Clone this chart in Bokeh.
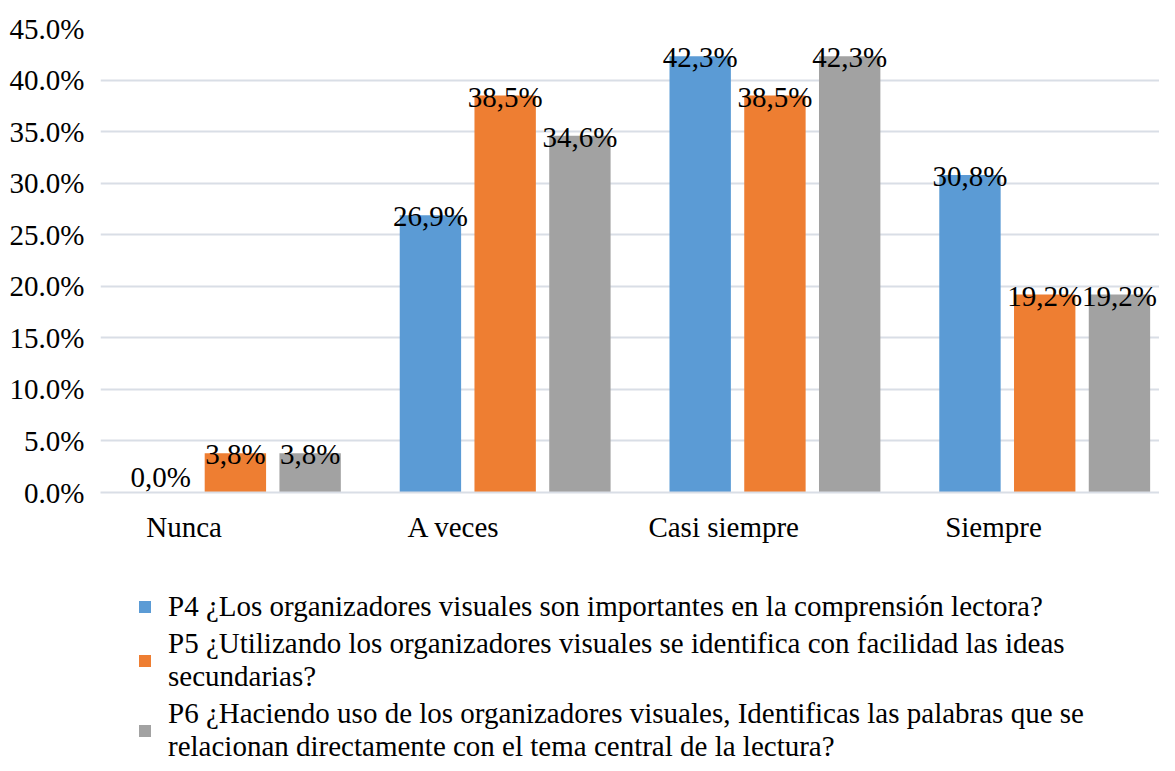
from bokeh.plotting import figure
from bokeh.layouts import column
from bokeh.models import (Range1d, FixedTicker, PrintfTickFormatter, CustomJSTickFormatter,
                          Legend, LegendItem, ColumnDataSource)
from bokeh.core.properties import value
from bokeh.embed import file_html
from bokeh.resources import INLINE

categories = ["Nunca", "A veces", "Casi siempre", "Siempre"]
p4 = [0.0, 26.9, 42.3, 30.8]
p5 = [3.8, 38.5, 38.5, 19.2]
p6 = [3.8, 34.6, 42.3, 19.2]
series_names = [
    "P4 ¿Los organizadores visuales son importantes en la comprensión lectora?",
    "P5 ¿Utilizando los organizadores visuales se identifica con facilidad las ideas\nsecundarias?",
    "P6 ¿Haciendo uso de los organizadores visuales, Identificas las palabras que se\nrelacionan directamente con el tema central de la lectura?",
]
y_ticks = [0, 5, 10, 15, 20, 25, 30, 35, 40, 45]

colors = ["#5B9BD5", "#EE7E32", "#A2A2A2"]
FONT = "Liberation Serif"
FS = "29px"

W = 1159
H1, H2 = 549, 214
left, top = 100, 28
frame_w = W - left
s = 0.99
group_px = 272.5 * s
x_end = frame_w / group_px

p = figure(width=W, height=H1, output_backend="svg", toolbar_location=None,
           x_range=Range1d(0, x_end), y_range=Range1d(0, 45),
           min_border_left=left, min_border_top=top, min_border_right=0,
           min_border_bottom=H1 - 492)
p.outline_line_color = None
p.background_fill_color = "white"
p.border_fill_color = "white"

# legend figure below the chart
p2 = figure(width=W, height=H2, output_backend="svg", toolbar_location=None,
            x_range=Range1d(-10, -9), y_range=Range1d(-10, -9),
            x_axis_location=None, y_axis_location=None,
            min_border_left=0, min_border_top=0, min_border_right=0, min_border_bottom=0)
p2.outline_line_color = None
p2.grid.grid_line_color = None
p2.background_fill_color = "white"
p2.border_fill_color = "white"

bar_w = 62 * s / group_px
offs = [-75.5 * s / group_px, 0.0, 75.5 * s / group_px]

legend_renderers = []
for j, vals in enumerate([p4, p5, p6]):
    xs = [i + 0.5 + offs[j] for i in range(len(categories))]
    src = ColumnDataSource(dict(x=xs, top=vals,
                                lab=[f"{v:.1f}".replace(".", ",") + "%" for v in vals],
                                yoff=[-16 if v == 0 else 1 for v in vals]))
    p.vbar(x="x", top="top", width=bar_w, bottom=0, source=src,
           fill_color=colors[j], line_color=None)
    p.text(x="x", y="top", text="lab", source=src, text_align="center",
           text_baseline="alphabetic", text_font=value(FONT), text_font_size=FS,
           text_color="black", y_offset="yoff")
    # same series in the legend panel (outside its visible range) to provide legend swatches
    r2 = p2.vbar(x="x", top="top", width=bar_w, bottom=0, source=src,
                 fill_color=colors[j], line_color=None)
    legend_renderers.append(r2)

# axes
p.yaxis.ticker = FixedTicker(ticks=y_ticks)
p.yaxis.formatter = PrintfTickFormatter(format="%.1f%%")
p.yaxis.major_label_text_font = FONT
p.yaxis.major_label_text_font_size = FS
p.yaxis.major_label_text_color = "black"
p.yaxis.axis_line_color = None
p.yaxis.major_tick_line_color = None
p.yaxis.minor_tick_line_color = None
p.yaxis.major_label_standoff = 10

p.xaxis.ticker = FixedTicker(ticks=[i + 0.31 for i in range(len(categories))])
p.xaxis.formatter = CustomJSTickFormatter(args=dict(names=categories),
                                          code="return names[Math.floor(tick)] || '';")
p.xaxis.major_label_text_font = FONT
p.xaxis.major_label_text_font_size = FS
p.xaxis.major_label_text_color = "black"
p.xaxis.axis_line_color = "#D9DEE6"
p.xaxis.axis_line_width = 2
p.xaxis.major_tick_line_color = None
p.xaxis.minor_tick_line_color = None
p.xaxis.major_label_standoff = 12

p.xgrid.grid_line_color = None
p.ygrid.grid_line_color = "#D9DEE6"
p.ygrid.grid_line_width = 2

legend = Legend(items=[LegendItem(label=series_names[j], renderers=[legend_renderers[j]])
                       for j in range(3)],
                location=(37, 0), orientation="vertical",
                glyph_width=15, glyph_height=15, label_standoff=16,
                label_height=33,
                label_text_font=FONT, label_text_font_size=FS, label_text_color="black",
                label_text_line_height=0.86, spacing=4, padding=0, margin=0,
                border_line_color=None, background_fill_alpha=0)
p2.add_layout(legend, "center")

open("out.html", "w").write(file_html(column(p, p2, spacing=0), INLINE))
